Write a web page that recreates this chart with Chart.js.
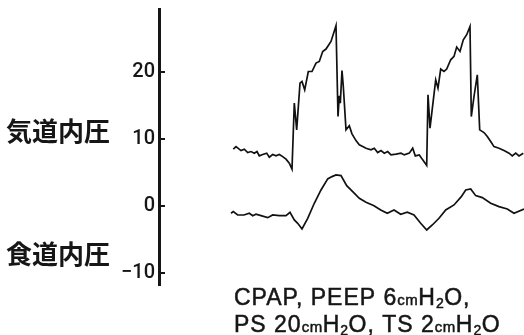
<!DOCTYPE html>
<html>
<head>
<meta charset="utf-8">
<script src="https://cdn.jsdelivr.net/npm/chart.js@4.4.1/dist/chart.umd.min.js"></script>
<style>
  html, body { margin: 0; padding: 0; background: #fff; }
  #wrap { width: 524px; height: 335px; }
</style>
</head>
<body>
<div id="wrap"><canvas id="c"></canvas></div>
<script>
// time axis is arbitrary (trace position), pressure in cmH2O
const yTicks = [-10, 0, 10, 20];
const seriesLabels = ['気道内圧', '食道内圧'];

const airwayT = [74.3, 77, 82, 85.3, 88.7, 92, 95.3, 98, 100.3, 103.7, 107.7, 110.3, 113.7, 117, 120.3, 123.7, 127, 130.3, 133,
  135.3, 137.7, 141, 143, 145.7, 149.3, 153, 157, 160.3, 163.7, 167, 172, 177, 179, 180.3, 181.3, 183, 184.3, 187, 190.3, 193,
  197, 200.3, 203.7, 207, 212, 215.3, 218.7, 222, 225.3, 228.7, 232, 237, 242, 245.3, 250.3, 253.7, 256.3, 260.3, 263.7, 267.7,
  269, 271, 276.7, 279, 281.7, 285, 287.7, 291.7, 295, 297.7, 301, 304.3, 307.7, 311, 312.3, 315, 318.3, 320.7, 325, 328.3,
  331.7, 335, 340, 345, 350, 353.3, 356.7, 360, 364.3];
const airwayP = [8.48, 8.86, 8.27, 8.48, 7.97, 8.12, 7.88, 8.12, 7.47, 7.67, 7.88, 7.28, 7.67, 7.47, 7.67, 7.37, 6.98, 6.38, 5.49,
  15.35, 11.36, 18.34, 18.58, 17.34, 20.07, 20.07, 21.33, 21.57, 23.06, 23.42, 24.56, 26.91, 13.35, 16.44, 15.35, 20.22, 17.83, 11.36, 11.96, 10.76,
  9.76, 9.12, 8.86, 8.62, 8.37, 8.62, 7.97, 8.27, 7.88, 8.12, 7.62, 7.73, 7.88, 7.62, 7.88, 8.62, 7.47, 7.62, 6.88, 6.05,
  16.59, 11.61, 18.83, 17.59, 20.43, 20.07, 20.43, 21.82, 22.32, 23.72, 23.06, 24.81, 25.56, 26.80, 13.35, 16.34, 19.58, 11.36, 10.96, 10.36,
  9.61, 8.86, 8.62, 8.27, 7.88, 7.47, 7.88, 7.47, 7.88];

const esoT = [72, 74.3, 78.7, 85, 90.3, 93.7, 97, 102, 108.7, 113.7, 120.3, 127, 131, 135.3, 138.7, 143, 148.7, 155.3, 162, 168.7,
  173, 177, 182, 187.7, 193.7, 200.3, 207, 215, 221.7, 228.3, 235, 241.7, 248.3, 255, 261.7, 267.7, 273.3, 280, 286.7, 295,
  302.3, 306.7, 311.7, 316.7, 323.3, 331.7, 340, 348.3, 355, 365];
const esoP = [-1.09, -0.85, -1.35, -1.35, -1.09, -1.45, -1.24, -1.45, -1.75, -1.35, -1.45, -1.45, -0.94, -2.09, -2.59, -3.44, -1.84, 0.40, 2.39, 4.04,
  4.38, 4.63, 4.53, 3.03, 2.14, 1.15, 0.55, 0.04, -0.60, -1.09, -0.60, -1.24, -0.94, -1.35, -2.59, -3.59, -2.84, -1.84, -0.60, 0.15,
  1.39, 2.39, 2.54, 1.54, 1.24, 0.40, -0.10, -0.45, -1.09, -0.45];

const captionLines = [
  [['CPAP, PEEP ', 'n'], ['6', 'n'], ['cm', 's'], ['H', 'n'], ['2', 'sub'], ['O,', 'n']],
  [['PS ', 'n'], ['20', 'n'], ['cm', 's'], ['H', 'n'], ['2', 'sub'], ['O, ', 'n'], ['TS ', 'n'], ['2', 'n'], ['cm', 's'], ['H', 'n'], ['2', 'sub'], ['O', 'n']]
];

const ink = '#161616';

const decor = {
  id: 'decor',
  afterDraw(chart) {
    const ctx = chart.ctx;
    const y = chart.scales.y;
    const left = chart.chartArea.left;
    ctx.save();
    // inward tick marks
    ctx.strokeStyle = ink;
    ctx.lineWidth = 2;
    yTicks.forEach(v => {
      const py = Math.round(y.getPixelForValue(v));
      ctx.beginPath();
      ctx.moveTo(left, py);
      ctx.lineTo(left + 6, py);
      ctx.stroke();
    });
    // series labels
    ctx.fillStyle = ink;
    ctx.font = 'bold 26px "Noto Sans CJK JP"';
    ctx.textBaseline = 'middle';
    ctx.textAlign = 'left';
    ctx.fillText(seriesLabels[0], 6, 131);
    ctx.fillText(seriesLabels[1], 6, 254);
    // caption
    const fonts = { n: '23px "Liberation Sans"', s: '15px "Liberation Sans"', sub: '14px "Liberation Sans"' };
    const baselines = [305, 332];
    ctx.strokeStyle = ink;
    ctx.lineWidth = 0.5;
    captionLines.forEach((line, i) => {
      let x = 234;
      line.forEach(([txt, kind]) => {
        ctx.font = fonts[kind];
        ctx.letterSpacing = kind === 'n' ? '1px' : '0.5px';
        ctx.textBaseline = 'alphabetic';
        const by = baselines[i] + (kind === 'sub' ? 3 : 0);
        ctx.fillText(txt, x, by);
        ctx.strokeText(txt, x, by);
        x += ctx.measureText(txt).width;
      });
    });
    ctx.restore();
  }
};

new Chart(document.getElementById('c'), {
  type: 'line',
  data: {
    datasets: [
      { label: seriesLabels[0], data: airwayT.map((t, i) => ({ x: t, y: airwayP[i] })) },
      { label: seriesLabels[1], data: esoT.map((t, i) => ({ x: t, y: esoP[i] })) }
    ]
  },
  options: {
    responsive: true,
    maintainAspectRatio: false,
    animation: false,
    layout: { padding: { left: 0, right: 0, top: 9, bottom: 50 } },
    elements: {
      line: { borderColor: '#111', borderWidth: 1.7, tension: 0 },
      point: { radius: 0 }
    },
    plugins: { legend: { display: false }, tooltip: { enabled: false } },
    scales: {
      x: { type: 'linear', display: false, min: 0, max: 365 },
      y: {
        min: -11.8,
        max: 29.4,
        afterBuildTicks: s => { s.ticks = yTicks.map(v => ({ value: v })); },
        afterFit: s => { s.width = 159; s.paddingTop = 0; s.paddingBottom = 0; },
        grid: { display: false, drawTicks: false },
        border: { display: true, width: 3, color: ink },
        ticks: {
          color: ink,
          padding: 4,
          font: { family: 'Roboto', size: 20, weight: '500' },
          callback: v => v < 0 ? '\u2212' + Math.abs(v) : String(v)
        }
      }
    }
  },
  plugins: [decor]
});
</script>
</body>
</html>
